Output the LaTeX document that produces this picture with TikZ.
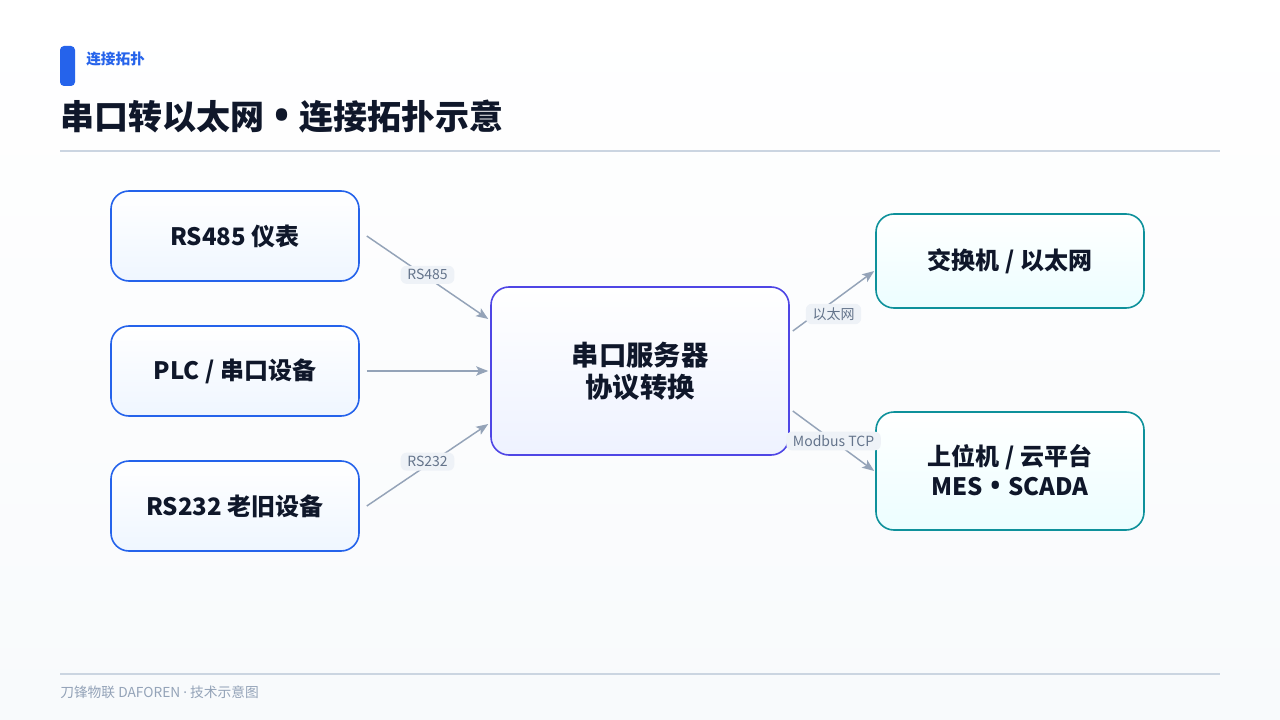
\documentclass[tikz,border=0pt]{standalone}
\usepackage{fontspec}
\setmainfont{Noto Sans CJK SC}
\newfontfamily\latinfont{Noto Sans}
\usetikzlibrary{arrows.meta}
\definecolor{bgbot}{RGB}{248,250,252}
\definecolor{accent}{RGB}{37,99,235}
\definecolor{ink}{RGB}{15,23,42}
\definecolor{rule}{RGB}{203,213,225}
\definecolor{muted}{RGB}{148,163,184}
\definecolor{lbl}{RGB}{100,116,139}
\definecolor{pillbg}{RGB}{238,242,247}
\definecolor{leftfill}{RGB}{239,246,255}
\definecolor{midline}{RGB}{79,70,229}
\definecolor{midfill}{RGB}{238,242,255}
\definecolor{rightline}{RGB}{14,145,155}
\definecolor{rightfill}{RGB}{236,254,255}
\newcommand{\titledot}{\hspace{6pt}{\latinfont\fontsize{38}{38}\selectfont\raisebox{-2.6pt}{•}}\hspace{6pt}}
\newcommand{\boxdot}{\hspace{5pt}{\latinfont\fontsize{25}{25}\selectfont\raisebox{-1.6pt}{•}}\hspace{5pt}}
\newcommand{\middotsep}{{\latinfont ·}}
\tikzset{
  boxbase/.style={rounded corners=13.5pt, line width=1.2pt, align=center, text=ink, font=\fontsize{18}{22}\selectfont\bfseries, inner sep=0pt},
  leftbox/.style={boxbase, draw=accent, top color=white, bottom color=leftfill, minimum width=186pt, minimum height=67.5pt},
  midbox/.style={boxbase, draw=midline, top color=white, bottom color=midfill, minimum width=223.5pt, minimum height=126pt, font=\fontsize{20.5}{24}\selectfont\bfseries},
  rightbox/.style={boxbase, draw=rightline, top color=white, bottom color=rightfill, minimum width=201pt},
  arr/.style={draw=muted, line width=1.1pt, -{Stealth[length=9pt,width=7pt,inset=2pt]}},
  pill/.style={fill=pillbg, rounded corners=4.5pt, text=lbl, font=\fontsize{10.5}{12}\selectfont, inner xsep=5pt, inner ysep=2.8pt},
}
\begin{document}
\begin{tikzpicture}[x=0.75pt,y=-0.75pt]
\useasboundingbox (0,0) rectangle (1280,720);
\fill[top color=white, bottom color=bgbot] (0,0) rectangle (1280,720);
% header
\fill[accent, rounded corners=3pt] (60,46) rectangle (75,86);
\node[anchor=west, text=accent, font=\fontsize{11}{12}\selectfont\bfseries, inner sep=0pt] (tag) at (86,59) {连接拓扑};
\node[anchor=west, text=ink, font=\fontsize{25.5}{30}\selectfont\bfseries, inner sep=0pt] (title) at (60,117) {串口转以太网\titledot 连接拓扑示意};
\draw[rule, line width=1.5pt] (60,151) -- (1220,151);
% footer
\draw[rule, line width=0.8pt] (60,674) -- (1220,674);
\node[anchor=west, text=muted, font=\fontsize{10.3}{12}\selectfont, inner sep=0pt] (foot) at (60,692) {刀锋物联 DAFOREN \middotsep{} 技术示意图};
% nodes
\node[leftbox] (b1) at (235,236) {RS485 仪表};
\node[leftbox] (b2) at (235,371) {PLC / 串口设备};
\node[leftbox] (b3) at (235,506) {RS232 老旧设备};
\node[midbox] (c) at (640,371) {串口服务器\\协议转换};
\node[rightbox, minimum height=70.5pt] (r1) at (1010,261) {交换机 / 以太网};
\node[rightbox, minimum height=88.5pt] (r2) at (1010,471) {上位机 / 云平台\\MES\boxdot SCADA};
% connectors
\draw[arr] ([xshift=5.25pt]b1.east) -- node[pill, pos=0.5, yshift=2pt] {RS485} ([xshift=-1.5pt,yshift=39pt]c.west);
\draw[arr] ([xshift=5.25pt]b2.east) -- ([xshift=-1.5pt]c.west);
\draw[arr] ([xshift=5.25pt]b3.east) -- node[pill, pos=0.5, yshift=2.5pt] {RS232} ([xshift=-1.5pt,yshift=-39.75pt]c.west);
\draw[arr] ([xshift=2.25pt,yshift=30pt]c.east) -- node[pill, pos=0.5, yshift=-9.75pt] {以太网} ([xshift=-0.75pt,yshift=-7.5pt]r1.west);
\draw[arr] ([xshift=2.25pt,yshift=-30pt]c.east) -- node[pill, pos=0.5] {Modbus TCP} ([xshift=-0.75pt]r2.west);
\end{tikzpicture}
\end{document}
